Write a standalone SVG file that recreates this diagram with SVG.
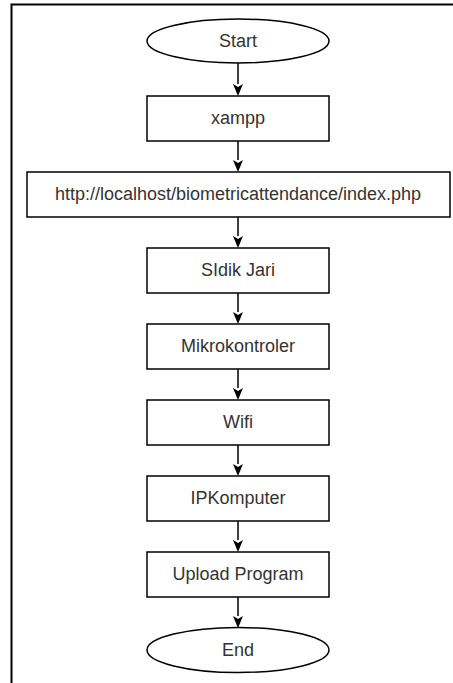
<svg xmlns="http://www.w3.org/2000/svg" width="453" height="683" viewBox="0 0 453 683">
<style>
.n{fill:#fff;stroke:#000;stroke-width:1.5}
.t{font-family:"Liberation Sans",Arial,sans-serif;font-size:18px;fill:#333;text-anchor:middle}
.c{stroke:#000;stroke-width:1.5;fill:none}
</style>
<defs>
<marker id="ah" viewBox="0 0 10 12" refX="5" refY="12" markerWidth="10" markerHeight="12" markerUnits="userSpaceOnUse" orient="auto-start-reverse">
<path d="M0,0 L5,3 L10,0 L5,12 Z" fill="#000" transform="rotate(0)"/>
</marker>
</defs>
<rect width="453" height="683" fill="#fff"/>
<path d="M11.5,683 V4.5 H453" fill="none" stroke="#000" stroke-width="2"/>
<g id="connectors">
<path class="c" d="M238,63 V84"/><polygon points="233,84 238,87 243,84 238,96"/>
<path class="c" d="M238,141 V160"/><polygon points="233,160 238,163 243,160 238,172"/>
<path class="c" d="M238,217 V236"/><polygon points="233,236 238,239 243,236 238,248"/>
<path class="c" d="M238,293 V312"/><polygon points="233,312 238,315 243,312 238,324"/>
<path class="c" d="M238,369 V388"/><polygon points="233,388 238,391 243,388 238,400"/>
<path class="c" d="M238,445 V464"/><polygon points="233,464 238,467 243,464 238,476"/>
<path class="c" d="M238,521 V540"/><polygon points="233,540 238,543 243,540 238,552"/>
<path class="c" d="M238,597 V616"/><polygon points="233,616 238,619 243,616 238,628"/>
</g>
<g id="start"><ellipse class="n" cx="238" cy="41" rx="91" ry="22"/><text class="t" x="238" y="47">Start</text></g>
<g id="xampp"><rect class="n" x="147" y="96" width="182" height="45"/><text class="t" x="238" y="124">xampp</text></g>
<g id="url"><rect class="n" x="27" y="172" width="423" height="45"/><text class="t" x="238" y="200">http://localhost/biometricattendance/index.php</text></g>
<g id="sidik"><rect class="n" x="147" y="248" width="182" height="45"/><text class="t" x="238" y="276">SIdik Jari</text></g>
<g id="mikro"><rect class="n" x="147" y="324" width="182" height="45"/><text class="t" x="238" y="352">Mikrokontroler</text></g>
<g id="wifi"><rect class="n" x="147" y="400" width="182" height="45"/><text class="t" x="238" y="428">Wifi</text></g>
<g id="ip"><rect class="n" x="147" y="476" width="182" height="45"/><text class="t" x="238" y="504">IPKomputer</text></g>
<g id="upload"><rect class="n" x="147" y="552" width="182" height="45"/><text class="t" x="238" y="580">Upload Program</text></g>
<g id="end"><ellipse class="n" cx="238" cy="650" rx="91" ry="22.5"/><text class="t" x="238" y="656">End</text></g>
</svg>
